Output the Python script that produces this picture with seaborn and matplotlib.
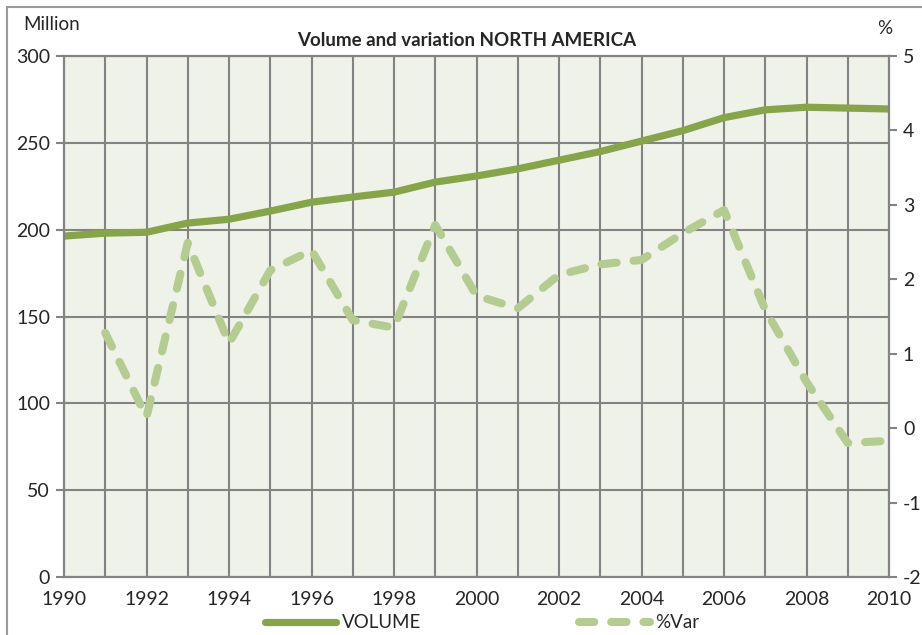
import numpy as np
import pandas as pd
import matplotlib
matplotlib.use("Agg")
import matplotlib.pyplot as plt
from matplotlib.patches import Rectangle
from matplotlib.lines import Line2D
import seaborn as sns

years = list(range(1990, 2011))
volume = [196.3, 198.0, 198.5, 203.8, 206.0, 210.7, 215.8, 218.8, 221.6, 227.4,
          230.9, 235.0, 240.0, 245.0, 251.0, 257.0, 264.5, 269.0, 270.5, 270.0, 269.5]
var_pct = [np.nan, 1.28, 0.15, 2.49, 1.14, 2.12, 2.39, 1.45, 1.35, 2.73,
           1.78, 1.61, 2.06, 2.20, 2.26, 2.62, 2.93, 1.59, 0.62, -0.20, -0.17]

df = pd.DataFrame({"year": years, "volume": volume, "var": var_pct})

sns.set_style("white")
plt.rcParams["font.family"] = ["Lato", "DejaVu Sans"]
plt.rcParams["axes.unicode_minus"] = False

c_vol = "#86A54A"
c_var = "#B4CC92"
c_grid = "#838383"

fig = plt.figure(figsize=(9.22, 6.35), dpi=100)
fig.patches.append(Rectangle((7 / 922, -0.1), 1.2, 1 - 7 / 635 + 0.1, transform=fig.transFigure,
                             fill=False, edgecolor="#9a9a9a", linewidth=1.5))

ax = fig.add_axes([64 / 922, 1 - 577 / 635, (889 - 64) / 922, (577 - 56) / 635])
ax.set_facecolor("#EEF2E8")
ax2 = ax.twinx()

sns.lineplot(data=df, x="year", y="volume", ax=ax, color=c_vol, linewidth=5.2,
             solid_capstyle="round", legend=False)
sns.lineplot(data=df, x="year", y="var", ax=ax2, color=c_var, linewidth=5.8,
             legend=False)
ln = ax2.lines[0]
ln.set_dashes((1.9, 2.1))
ln.set_dash_capstyle("round")

ax.set_xlim(1990, 2010)
ax.set_ylim(0, 300)
ax2.set_ylim(-2, 5)
ax.set_xticks(range(1990, 2011, 2))
ax.set_xticks(range(1990, 2011), minor=True)
ax.set_yticks(range(0, 301, 50))
ax2.set_yticks(range(-2, 6))

ax.grid(True, which="both", color=c_grid, linewidth=1.5)
ax.set_axisbelow(True)
for a in (ax, ax2):
    for s in a.spines.values():
        s.set_color(c_grid)
        s.set_linewidth(1.5)
    a.set_xlabel("")
    a.set_ylabel("")

ax.tick_params(axis="both", which="both", direction="out", length=6, width=1.5,
               color=c_grid, labelsize=14, pad=4)
ax2.tick_params(axis="y", direction="out", length=6, width=1.5, color=c_grid,
                labelsize=14, pad=4)

fig.text(23 / 922, 1 - 24 / 635, "Million", fontsize=13.5, va="center", ha="left")
fig.text(885 / 922, 1 - 29 / 635, "%", fontsize=13.5, va="center", ha="center")
fig.text(467 / 922, 1 - 41 / 635, "Volume and variation NORTH AMERICA", fontsize=13.5,
         fontweight="bold", va="center", ha="center")

h1 = Line2D([], [], color=c_vol, linewidth=5.2, solid_capstyle="round")
h2 = Line2D([], [], color=c_var, linewidth=5.8, dashes=(1.9, 2.1), dash_capstyle="round")
fig.legend([h1, h2], ["VOLUME", "%Var"], loc="center", bbox_to_anchor=(0.523, 1 - 623 / 635),
           ncol=2, frameon=False, fontsize=13.5, handlelength=3.8, columnspacing=8.4,
           handletextpad=0.3, borderpad=0)

fig.savefig("out.png", dpi=100)
